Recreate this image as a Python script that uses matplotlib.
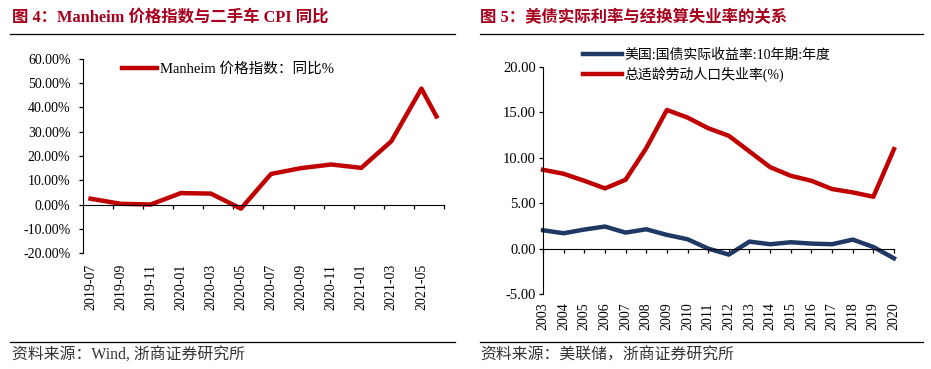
import numpy as np
import matplotlib
matplotlib.use("Agg")
from matplotlib import pyplot as plt
from matplotlib.lines import Line2D

plt.rcParams['font.family'] = ['Liberation Serif', 'Noto Sans CJK SC']
plt.rcParams['axes.unicode_minus'] = False

# ---- data: Manheim index YoY (month index 0 = 2019-07)
month_labels = ['2019-07', '2019-09', '2019-11', '2020-01', '2020-03', '2020-05',
                '2020-07', '2020-09', '2020-11', '2021-01', '2021-03', '2021-05']
manheim_months = [0, 2, 4, 6, 8, 10, 12, 14, 16, 18, 20, 22, 23]
manheim_yoy = [2.4, 0.3, 0.0, 4.7, 4.5, -1.7, 12.6, 15.0, 16.5, 15.1, 26.1, 47.8, 36.3]

# ---- data: US real yield vs unemployment
years = list(range(2003, 2021))
real_yield = [2.02, 1.69, 2.10, 2.43, 1.76, 2.13, 1.51, 1.03, 0.0, -0.66,
              0.77, 0.48, 0.70, 0.55, 0.48, 0.99, 0.18, -1.07]
unemployment = [8.68, 8.24, 7.47, 6.63, 7.58, 11.06, 15.27, 14.43, 13.26, 12.42,
                10.70, 8.97, 8.02, 7.47, 6.56, 6.19, 5.71, 10.95]

RED = '#C00000'
NAVY = '#1F3864'
TITLE_RED = '#A8001C'
W, H = 931, 369

fig = plt.figure(figsize=(W / 100, H / 100), dpi=100)


def fx(px):
    return px / W


def fy(py):
    return 1 - py / H


def rule(x0, x1, y):
    fig.add_artist(Line2D([fx(x0), fx(x1)], [fy(y), fy(y)], transform=fig.transFigure,
                          color='black', lw=0.9))


# titles, rules, sources
fig.text(fx(12), fy(18), '图 4：Manheim 价格指数与二手车 CPI 同比', color=TITLE_RED,
         fontsize=11.8, fontweight='bold', va='center', ha='left')
fig.text(fx(480), fy(18), '图 5：美债实际利率与经换算失业率的关系', color=TITLE_RED,
         fontsize=11.8, fontweight='bold', va='center', ha='left')
rule(10, 455, 34)
rule(480, 923, 34)
rule(10, 455, 342)
rule(480, 923, 342)
fig.text(fx(12), fy(356), '资料来源：Wind, 浙商证券研究所', color='#333333',
         fontsize=11.4, va='center', ha='left')
fig.text(fx(480), fy(356), '资料来源：美联储，浙商证券研究所', color='#333333',
         fontsize=11.4, va='center', ha='left')

# ---- left chart
ax1 = fig.add_axes([fx(83), fy(253), fx(444 - 83), (253 - 59) / H])
ax1.plot(manheim_months, manheim_yoy, color=RED, lw=3.2, solid_joinstyle='round',
         clip_on=False, label='Manheim 价格指数：同比%')
ax1.set_xlim(-0.5, 23.5)
ax1.set_ylim(-20, 60)
ax1.set_yticks(np.arange(-20, 61, 10))
ax1.set_yticklabels(['%.2f%%' % v for v in np.arange(-20, 61, 10)], fontsize=10)
ax1.tick_params(axis='y', length=3, width=0.9, pad=6, direction='out')
ax1.spines['top'].set_visible(False)
ax1.spines['right'].set_visible(False)
ax1.spines['bottom'].set_position(('data', 0))
ax1.set_xticks(np.arange(1.5, 24, 2))
ax1.tick_params(axis='x', length=3, width=0.9, direction='out', labelbottom=False)
sec1 = ax1.secondary_xaxis(0.0)
sec1.set_xticks(np.arange(0, 23, 2))
sec1.set_xticklabels(month_labels, rotation=90, fontsize=10)
sec1.tick_params(length=0, pad=8)
sec1.spines['bottom'].set_visible(False)
ax1.legend(loc='center left', bbox_to_anchor=(0.108, 0.948), frameon=False,
           fontsize=10.5, handlelength=2.4, handletextpad=0.2, borderpad=0,
           borderaxespad=0)

# ---- right chart
ax2 = fig.add_axes([fx(543), fy(294), fx(894 - 543), (294 - 67) / H])
ax2.plot(years, real_yield, color=NAVY, lw=3.2, clip_on=False,
         label='美国:国债实际收益率:10年期:年度')
ax2.plot(years, unemployment, color=RED, lw=3.2, clip_on=False,
         label='总适龄劳动人口失业率(%)')
ax2.set_xlim(2003, 2020)
ax2.set_ylim(-5, 20)
ax2.set_yticks(np.arange(-5, 21, 5))
ax2.set_yticklabels(['%.2f' % v for v in np.arange(-5, 21, 5)], fontsize=10.5)
ax2.tick_params(axis='y', length=3, width=0.9, pad=2, direction='out')
ax2.spines['top'].set_visible(False)
ax2.spines['right'].set_visible(False)
ax2.spines['bottom'].set_position(('data', 0))
ax2.set_xticks(years)
ax2.tick_params(axis='x', length=3, width=0.9, direction='out', labelbottom=False)
sec2 = ax2.secondary_xaxis(0.0)
sec2.set_xticks(years)
sec2.set_xticklabels([str(y) for y in years], rotation=90, fontsize=10)
sec2.tick_params(length=0, pad=6)
sec2.spines['bottom'].set_visible(False)
ax2.legend(loc='center left', bbox_to_anchor=(0.114, 1.007), frameon=False,
           fontsize=10, handlelength=2.8, handletextpad=0.2, borderpad=0,
           borderaxespad=0, labelspacing=0.35)

fig.savefig('out.png', dpi=100)
